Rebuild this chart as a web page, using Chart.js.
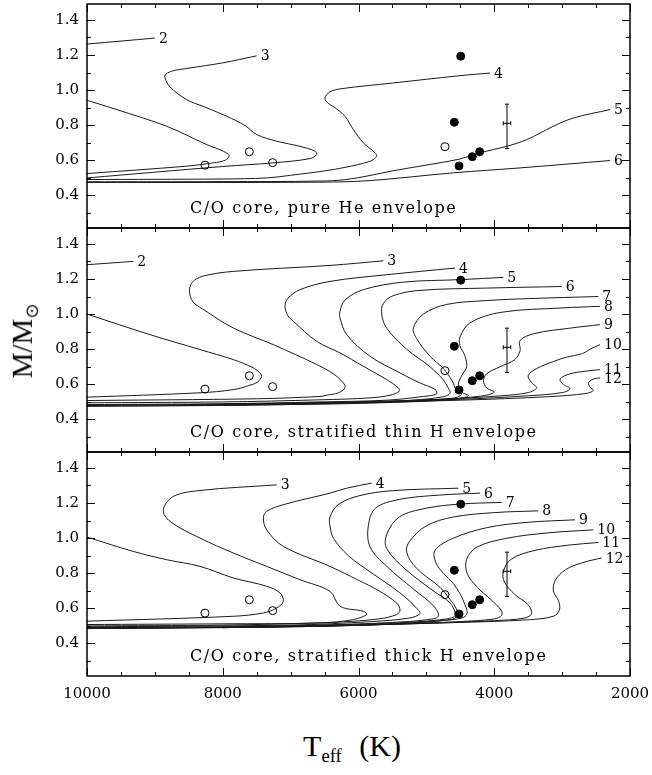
<!DOCTYPE html>
<html>
<head>
<meta charset="utf-8">
<script src="https://cdn.jsdelivr.net/npm/chart.js@4/dist/chart.umd.min.js"></script>
<style>
  body { margin: 0; background: #fff; width: 652px; height: 775px; position: relative; overflow: hidden; }
  canvas { position: absolute; left: 0; }
  .title { position: absolute; font-family: "Liberation Serif", serif; color: #000; white-space: nowrap; transform: translate(-50%, -50%); }
  #ytitle { left: 24px; top: 341px; font-size: 29px; transform: translate(-50%, -50%) rotate(-90deg); }
  #ytitle sub { font-size: 62%; vertical-align: -0.35em; font-family: "DejaVu Sans", sans-serif; }
  #xtitle { left: 352px; top: 748px; font-size: 30px; word-spacing: 10px; }
  #xtitle sub { font-size: 62%; vertical-align: -0.3em; }
</style>
</head>
<body>
<canvas id="p1" width="652" height="244" style="top:-6px"></canvas>
<canvas id="p2" width="652" height="244" style="top:218px"></canvas>
<canvas id="p3" width="652" height="274" style="top:442px"></canvas>
<div class="title" id="ytitle">M/M<sub>⊙</sub></div>
<div class="title" id="xtitle">T<sub>eff</sub> (K)</div>
<script>
// axes
var xTicks = [10000, 8000, 6000, 4000, 2000];
var yTicks = [0.4, 0.6, 0.8, 1.0, 1.2, 1.4];
var captions = ['C/O core, pure He envelope', 'C/O core, stratified thin H envelope', 'C/O core, stratified thick H envelope'];

// observed stars (same in every panel)
var openT = [8262, 7609, 7265, 4726];
var openM = [0.573, 0.649, 0.587, 0.678];
var filledT = [4494, 4588, 4519, 4323, 4215];
var filledM = [1.193, 0.817, 0.568, 0.621, 0.649];
// typical error bar
var errT = 3812, errM = 0.811, errMLow = 0.667, errMHigh = 0.92, errDT = 55;

// isochrones [Teff, M], first point is the labelled end
// pure He envelope
var he2a = [[9000,1.296],[10000,1.262]];
var he2b = [[10000,0.942],[9562,0.889],[8826,0.794],[8237,0.69],[7992,0.652],[7904,0.627],[7967,0.600],[8139,0.586],[8531,0.567],[10000,0.525]];
var he3 = [[7500,1.195],[8000,1.155],[8500,1.125],[8729,1.11],[8840,1.09],[8851,1.069],[8777,1.018],[8531,0.945],[8287,0.907],[7942,0.851],[7672,0.798],[7500,0.747],[7205,0.709],[6862,0.68],[6641,0.652],[6616,0.633],[6715,0.61],[7255,0.586],[8000,0.565],[10000,0.50]];
var he4 = [[4063,1.097],[4505,1.082],[5500,1.04],[6250,1.008],[6420,0.99],[6494,0.955],[6450,0.925],[6371,0.907],[6199,0.851],[6076,0.775],[5929,0.70],[5757,0.643],[5732,0.623],[5830,0.595],[6200,0.56],[6500,0.54],[7000,0.515],[7353,0.50],[8000,0.494],[10000,0.491]];
var he5 = [[2294,0.889],[2835,0.841],[3130,0.794],[3522,0.718],[3816,0.68],[4210,0.643],[4505,0.608],[5094,0.567],[5500,0.54],[5830,0.514],[6200,0.49],[6567,0.482],[8000,0.479],[10000,0.478]];
var he6 = [[2294,0.599],[3620,0.557],[4603,0.529],[5830,0.485],[6567,0.476],[10000,0.474]];

// stratified thin H envelope
var th2a = [[9318,1.30],[10000,1.281]];
var th2b = [[10000,1.0],[9072,0.883],[8335,0.798],[7845,0.741],[7550,0.694],[7440,0.66],[7427,0.646],[7480,0.615],[7600,0.595],[7845,0.57],[8335,0.552],[10000,0.527]];
var th3 = [[5634,1.303],[6420,1.277],[7845,1.243],[8300,1.215],[8450,1.18],[8490,1.13],[8440,1.07],[8300,1.03],[7845,0.921],[7255,0.826],[6616,0.713],[6371,0.66],[6223,0.608],[6199,0.58],[6297,0.552],[6469,0.538],[6567,0.531],[7500,0.518],[10000,0.508]];
var th4 = [[4578,1.262],[5585,1.224],[6420,1.186],[6862,1.139],[7040,1.09],[7083,1.044],[7040,0.99],[6960,0.959],[6616,0.845],[6272,0.779],[5929,0.703],[5585,0.627],[5413,0.58],[5398,0.561],[5536,0.538],[5830,0.523],[6567,0.512],[8000,0.50],[10000,0.495]];
var th5 = [[3866,1.209],[4504,1.196],[5339,1.182],[5929,1.139],[6199,1.08],[6272,1.016],[6272,0.978],[6174,0.883],[5830,0.76],[5388,0.665],[5094,0.608],[4873,0.571],[4848,0.546],[5045,0.531],[5585,0.51],[6567,0.50],[8000,0.49],[10000,0.485]];
var th6 = [[3006,1.157],[4112,1.148],[5094,1.135],[5487,1.105],[5634,1.06],[5658,1.0],[5585,0.92],[5290,0.80],[4946,0.70],[4760,0.63],[4680,0.58],[4650,0.55],[4750,0.53],[5200,0.51],[6000,0.497],[8000,0.485],[10000,0.48]];
var th7 = [[2466,1.10],[3500,1.088],[4112,1.077],[4700,1.055],[5045,1.0],[5192,0.92],[5143,0.86],[4946,0.76],[4750,0.69],[4620,0.62],[4560,0.57],[4480,0.545],[4600,0.522],[5200,0.505],[6500,0.49],[8000,0.48],[10000,0.477]];
var th8 = [[2442,1.044],[3000,1.035],[3900,1.01],[4357,0.95],[4504,0.87],[4504,0.82],[4430,0.76],[4406,0.70],[4480,0.65],[4530,0.60],[4500,0.56],[4380,0.535],[4600,0.515],[5500,0.497],[7000,0.485],[10000,0.475]];
var th9 = [[2442,0.94],[2884,0.92],[3400,0.89],[3620,0.85],[3620,0.79],[3700,0.74],[3915,0.70],[4112,0.66],[4160,0.62],[4112,0.58],[4000,0.555],[4200,0.533],[4800,0.515],[6000,0.50],[8000,0.487],[10000,0.48]];
var th10 = [[2442,0.826],[2589,0.80],[2700,0.775],[2933,0.755],[3129,0.73],[3375,0.69],[3500,0.65],[3450,0.61],[3375,0.58],[3500,0.553],[3900,0.535],[4800,0.515],[6000,0.50],[8000,0.487]];
var th11 = [[2442,0.684],[2650,0.675],[2884,0.66],[3031,0.63],[2980,0.60],[2884,0.575],[3000,0.553],[3500,0.535],[4500,0.515],[6000,0.497],[8000,0.485]];
var th12 = [[2442,0.637],[2540,0.63],[2610,0.61],[2590,0.585],[2540,0.565],[2650,0.548],[3200,0.53],[4500,0.51],[6500,0.492],[8000,0.483]];

// stratified thick H envelope
var tk2 = [[10000,1.006],[9318,0.924],[8826,0.877],[8335,0.839],[7844,0.773],[7353,0.726],[7157,0.688],[7108,0.64],[7206,0.602],[7402,0.574],[7844,0.555],[10000,0.527]];
var tk3 = [[7206,1.303],[8335,1.271],[8728,1.237],[8876,1.161],[8777,1.095],[8335,1.0],[7844,0.915],[7353,0.839],[6862,0.763],[6420,0.697],[6272,0.612],[5929,0.583],[5879,0.565],[6076,0.536],[6567,0.517],[8000,0.512],[10000,0.508]];
var tk4 = [[5806,1.313],[6174,1.284],[6420,1.256],[7108,1.19],[7353,1.152],[7402,1.114],[7353,1.047],[7108,0.953],[6420,0.839],[6000,0.76],[5700,0.70],[5437,0.63],[5388,0.59],[5437,0.565],[5700,0.54],[6400,0.52],[8000,0.505],[10000,0.50]];
var tk5 = [[4529,1.284],[5500,1.27],[6000,1.24],[6300,1.19],[6420,1.12],[6420,1.07],[6370,1.0],[6150,0.90],[5800,0.80],[5500,0.72],[5300,0.66],[5143,0.60],[5094,0.57],[5250,0.545],[5800,0.525],[7000,0.505],[10000,0.495]];
var tk6 = [[4210,1.256],[4800,1.245],[5400,1.22],[5750,1.17],[5855,1.07],[5830,0.95],[5585,0.84],[5192,0.71],[4897,0.615],[4824,0.555],[5000,0.535],[5500,0.52],[6500,0.505],[8000,0.495],[10000,0.49]];
var tk7 = [[3890,1.203],[4494,1.194],[5000,1.17],[5400,1.12],[5585,1.02],[5585,0.94],[5300,0.82],[4900,0.70],[4650,0.63],[4578,0.56],[4700,0.54],[5300,0.52],[6500,0.505],[8000,0.495],[10000,0.488]];
var tk8 = [[3350,1.155],[4000,1.145],[4600,1.12],[5000,1.07],[5250,0.98],[5290,0.92],[5150,0.83],[4800,0.72],[4650,0.65],[4560,0.60],[4540,0.56],[4650,0.535],[5500,0.512],[7000,0.497],[10000,0.485]];
var tk9 = [[2810,1.104],[3500,1.09],[4100,1.06],[4600,1.0],[4873,0.93],[4860,0.86],[4750,0.80],[4600,0.74],[4500,0.68],[4430,0.62],[4400,0.57],[4480,0.545],[4800,0.53],[5500,0.51],[7000,0.495],[10000,0.485]];
var tk10 = [[2540,1.047],[3200,1.03],[3800,1.0],[4250,0.95],[4406,0.88],[4400,0.80],[4250,0.72],[4050,0.65],[3900,0.59],[3890,0.56],[4000,0.54],[4500,0.525],[5500,0.51],[7000,0.495],[10000,0.485]];
var tk11 = [[2466,0.975],[2900,0.96],[3400,0.93],[3750,0.88],[3866,0.81],[3850,0.75],[3700,0.68],[3500,0.62],[3450,0.57],[3550,0.545],[4000,0.53],[5000,0.515],[6500,0.50],[8000,0.49]];
var tk12 = [[2417,0.887],[2700,0.86],[2950,0.82],[3100,0.76],[3129,0.70],[3050,0.64],[3040,0.59],[3130,0.555],[3500,0.535],[4500,0.52],[6000,0.505],[8000,0.49]];

var panels = [
    {id: 'p1', caption: captions[0], curves: [[he2a,'2'],[he2b,''],[he3,'3'],[he4,'4'],[he5,'5'],[he6,'6']]},
    {id: 'p2', caption: captions[1], curves: [[th2a,'2'],[th2b,''],[th3,'3'],[th4,'4'],[th5,'5'],[th6,'6'],[th7,'7'],[th8,'8'],[th9,'9'],[th10,'10'],[th11,'11'],[th12,'12']]},
    {id: 'p3', caption: captions[2], curves: [[tk2,''],[tk3,'3'],[tk4,'4'],[tk5,'5'],[tk6,'6'],[tk7,'7'],[tk8,'8'],[tk9,'9'],[tk10,'10'],[tk11,'11'],[tk12,'12']]}
];

var serif = '"DejaVu Serif", serif';

// frame, inward ticks, curve labels, error bar, caption
var framePlugin = {
    id: 'frame',
    afterDraw: function (chart) {
        var ctx = chart.ctx, a = chart.chartArea;
        var x = chart.scales.x, y = chart.scales.y;
        ctx.save();
        ctx.strokeStyle = '#000';
        ctx.lineWidth = 1;
        ctx.beginPath();
        for (var t = 2000; t <= 10000; t += 500) {
            var px = Math.round(x.getPixelForValue(t)) + 0.5;
            var len = (t % 2000 === 0) ? 8 : 4;
            ctx.moveTo(px, a.top); ctx.lineTo(px, a.top + len);
            ctx.moveTo(px, a.bottom); ctx.lineTo(px, a.bottom - len);
        }
        for (var k = 3; k <= 14; k++) {
            var py = Math.round(y.getPixelForValue(k / 10)) + 0.5;
            var l2 = (k % 2 === 0) ? 8 : 4;
            ctx.moveTo(a.left, py); ctx.lineTo(a.left + l2, py);
            ctx.moveTo(a.right, py); ctx.lineTo(a.right - l2, py);
        }
        ctx.stroke();

        // error bar
        var ex = x.getPixelForValue(errT), ey = y.getPixelForValue(errM);
        var eyLo = y.getPixelForValue(errMLow), eyHi = y.getPixelForValue(errMHigh);
        var exL = x.getPixelForValue(errT + errDT), exR = x.getPixelForValue(errT - errDT);
        ctx.beginPath();
        ctx.moveTo(ex, eyLo); ctx.lineTo(ex, eyHi);
        ctx.moveTo(ex - 2, eyLo); ctx.lineTo(ex + 2, eyLo);
        ctx.moveTo(ex - 2, eyHi); ctx.lineTo(ex + 2, eyHi);
        ctx.moveTo(exL, ey); ctx.lineTo(exR, ey);
        ctx.moveTo(exL, ey - 2); ctx.lineTo(exL, ey + 2);
        ctx.moveTo(exR, ey - 2); ctx.lineTo(exR, ey + 2);
        ctx.stroke();

        // curve labels at the labelled end
        ctx.fillStyle = '#000';
        ctx.font = '14px ' + serif;
        ctx.textAlign = 'left';
        ctx.textBaseline = 'middle';
        chart.data.datasets.forEach(function (ds) {
            if (!ds.tag) return;
            var p = ds.data[0];
            ctx.fillText(ds.tag, x.getPixelForValue(p.x) + 4, y.getPixelForValue(p.y) + 1);
        });

        // panel caption
        ctx.font = '16px ' + serif;
        ctx.letterSpacing = '1.6px';
        ctx.fillText(chart.options.plugins.frame.caption, 190, a.bottom - 19);
        ctx.letterSpacing = '0px';

        ctx.lineWidth = 1.5;
        ctx.strokeRect(a.left, a.top, a.right - a.left, a.bottom - a.top);
        ctx.restore();
    }
};

panels.forEach(function (panel, i) {
    var last = (i === panels.length - 1);
    var datasets = [];
    datasets.push({
        data: filledT.map(function (t, j) { return {x: t, y: filledM[j]}; }),
        pointRadius: 4, pointBackgroundColor: '#000', pointBorderColor: '#000', pointBorderWidth: 1,
        showLine: false, order: 0
    });
    datasets.push({
        data: openT.map(function (t, j) { return {x: t, y: openM[j]}; }),
        pointRadius: 4, pointBackgroundColor: 'rgba(0,0,0,0)', pointBorderColor: '#000', pointBorderWidth: 1,
        showLine: false, order: 0
    });
    panel.curves.forEach(function (c) {
        datasets.push({
            tag: c[1],
            data: c[0].map(function (p) { return {x: p[0], y: p[1]}; }),
            showLine: true, pointRadius: 0, borderColor: '#1a1a1a', borderWidth: 1, tension: 0.35, order: 1
        });
    });

    new Chart(document.getElementById(panel.id).getContext('2d'), {
        type: 'scatter',
        data: {datasets: datasets},
        plugins: [framePlugin],
        options: {
            responsive: false,
            animation: false,
            events: [],
            layout: {padding: {top: 10, bottom: last ? 0 : 10, left: 0, right: 22}},
            plugins: {legend: {display: false}, tooltip: {enabled: false}, frame: {caption: panel.caption}},
            scales: {
                x: {
                    type: 'linear', reverse: true, min: 2000, max: 10000, display: last,
                    grid: {display: false, drawTicks: false}, border: {display: false},
                    ticks: {color: '#000', font: {family: serif, size: 15}, padding: 9, maxRotation: 0, autoSkip: false,
                            callback: function (v) { return String(v); }},
                    afterBuildTicks: function (s) { s.ticks = xTicks.map(function (v) { return {value: v}; }); },
                    afterFit: function (s) { s.height = last ? 40 : 0; s.paddingLeft = 0; s.paddingRight = 0; }
                },
                y: {
                    type: 'linear', min: 0.215, max: 1.49,
                    grid: {display: false, drawTicks: false}, border: {display: false},
                    ticks: {color: '#000', font: {family: serif, size: 15}, padding: 8,
                            callback: function (v) { return v.toFixed(1); }},
                    afterBuildTicks: function (s) { s.ticks = yTicks.map(function (v) { return {value: v}; }); },
                    afterFit: function (s) { s.width = 87; s.paddingTop = 0; s.paddingBottom = 0; }
                }
            }
        }
    });
});
</script>
</body>
</html>
